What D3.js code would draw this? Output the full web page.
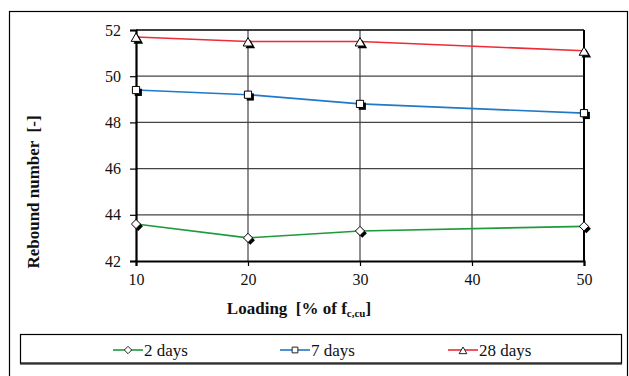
<!DOCTYPE html>
<html><head><meta charset="utf-8">
<script src="https://cdn.jsdelivr.net/npm/d3@7"></script>
<style>body{margin:0;background:#fff}svg{display:block}svg text{font-family:"Liberation Serif","Times New Roman",serif !important}</style>
</head><body><svg id="c" width="629" height="376"></svg>
<script>
const loading = [10, 20, 30, 50];
const days2 = [43.6, 43.0, 43.3, 43.5];
const days7 = [49.4, 49.2, 48.8, 48.4];
const days28 = [51.7, 51.5, 51.5, 51.1];
const seriesNames = ["2 days", "7 days", "28 days"];
const xTicks = [10, 20, 30, 40, 50];
const yTicks = [42, 44, 46, 48, 50, 52];

const svg = d3.select("#c");
const L = 136, R = 584, T = 30, B = 261;
const x = d3.scaleLinear().domain([10, 50]).range([L, R]);
const y = d3.scaleLinear().domain([42, 52]).range([B, T]);

svg.append("rect").attr("x", 9.5).attr("y", 11.5).attr("width", 618).attr("height", 400)
  .attr("fill", "none").attr("stroke", "#000").attr("stroke-width", 1.2);

const g = svg.append("g");
g.selectAll(".hg").data(yTicks.slice(1, -1)).join("line")
  .attr("x1", L).attr("x2", R).attr("y1", d => y(d)).attr("y2", d => y(d))
  .attr("stroke", "#444").attr("stroke-width", 1.2);
g.selectAll(".vg").data(xTicks.slice(1, -1)).join("line")
  .attr("y1", T).attr("y2", B).attr("x1", d => x(d)).attr("x2", d => x(d))
  .attr("stroke", "#444").attr("stroke-width", 1.2);
g.append("line").attr("x1", L).attr("x2", R).attr("y1", T).attr("y2", T).attr("stroke", "#000").attr("stroke-width", 1.6);
g.append("line").attr("x1", R).attr("x2", R).attr("y1", T).attr("y2", B).attr("stroke", "#000").attr("stroke-width", 2);

const yAxis = d3.axisLeft(y).tickValues(yTicks).tickSize(6).tickPadding(9);
const ya = svg.append("g").attr("transform", `translate(${L},0)`).call(yAxis);
const xAxis = d3.axisBottom(x).tickValues(xTicks).tickSize(5).tickPadding(8);
const xa = svg.append("g").attr("transform", `translate(0,${B})`).call(xAxis);
[ya, xa].forEach(a => {
  a.attr("font-family", null).attr("font-size", null);
  a.select(".domain").attr("stroke", "#000").attr("stroke-width", 2.2);
  a.selectAll(".tick line").attr("stroke", "#000").attr("stroke-width", 1.2);
  a.selectAll(".tick text").attr("font-size", 16).attr("fill", "#111");
});

// marker shapes
const diamond = s => `M0,${-s}L${s},0L0,${s}L${-s},0Z`;
const square = s => `M${-s},${-s}H${s}V${s}H${-s}Z`;
const triangle = s => `M0,${-s}L${s * 1.1},${s * 0.9}H${-s * 1.1}Z`;
const shapes = [diamond, square, triangle];
const msize = [4.6, 3.6, 4.4];

const colors = ["#1e9a3c", "#1f78c8", "#ee2b36"];
const data = [days2, days7, days28];
const line = d3.line().x((d, i) => x(loading[i])).y(d => y(d));
data.forEach((vals, si) => {
  svg.append("path").datum(vals).attr("d", line).attr("fill", "none")
    .attr("stroke", colors[si]).attr("stroke-width", 1.6);
});
data.forEach((vals, si) => {
  const grp = svg.append("g");
  const p = shapes[si](msize[si]);
  vals.forEach((v, i) => {
    const cx = x(loading[i]), cy = y(v) + (si === 2 ? 0.5 : 0);
    grp.append("path").attr("d", p).attr("transform", `translate(${cx + 2.3},${cy + 2.3})`).attr("fill", "#000");
    grp.append("path").attr("d", p).attr("transform", `translate(${cx},${cy})`)
      .attr("fill", "#fff").attr("stroke", "#000").attr("stroke-width", 1);
  });
});

svg.append("text").attr("transform", "translate(39,192) rotate(-90)").attr("text-anchor", "middle")
  .attr("font-weight", "bold").attr("font-size", 17).attr("fill", "#111")
  .attr("xml:space", "preserve").text("Rebound number  [-]");
const xt = svg.append("text").attr("x", 299).attr("y", 314).attr("text-anchor", "middle")
  .attr("font-weight", "bold").attr("font-size", 17).attr("fill", "#111").attr("xml:space", "preserve");
xt.append("tspan").text("Loading  [% of f");
xt.append("tspan").attr("font-size", 11).attr("dy", 3).text("c,cu");
xt.append("tspan").attr("dy", -3).text("]");

svg.append("line").attr("x1", 20).attr("x2", 622).attr("y1", 364).attr("y2", 364).attr("stroke", "#777").attr("stroke-width", 2);
svg.append("rect").attr("x", 20.5).attr("y", 334.5).attr("width", 601).attr("height", 28.5)
  .attr("fill", "#fff").attr("stroke", "#000").attr("stroke-width", 1.2);
const legX = [113, 280, 448];
seriesNames.forEach((name, si) => {
  const lg = svg.append("g").attr("transform", `translate(${legX[si]},350)`);
  lg.append("line").attr("x1", 0).attr("x2", 30).attr("stroke", colors[si]).attr("stroke-width", 1.6);
  lg.append("path").attr("d", shapes[si](msize[si] * 0.8))
    .attr("transform", `translate(15,${si === 2 ? 0.5 : 0})`).attr("fill", "#fff").attr("stroke", "#222").attr("stroke-width", 1);
  lg.append("text").attr("x", 31).attr("y", 5.5).attr("font-size", 17).attr("fill", "#111").text(name);
});
</script></body></html>
